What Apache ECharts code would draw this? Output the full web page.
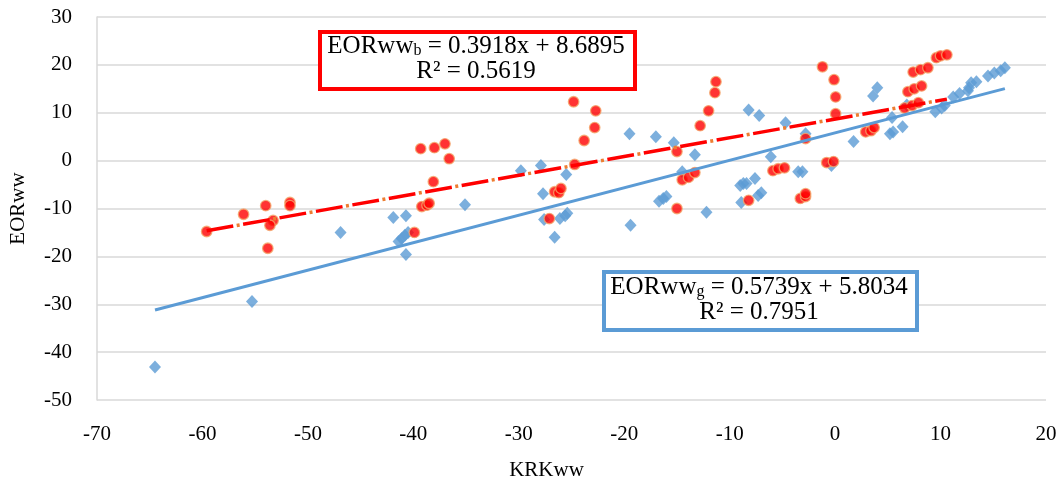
<!DOCTYPE html>
<html>
<head>
<meta charset="utf-8">
<script src="https://cdn.jsdelivr.net/npm/echarts@6/dist/echarts.min.js"></script>
<style>
html,body{margin:0;padding:0;background:#fff;}
#chart{width:1062px;height:486px;}
</style>
</head>
<body>
<div id="chart"></div>
<script>
// Blue series (g): diamonds
const blueX = [-64.5,-55.3,-46.9,-41.9,-40.7,-41.4,-41.1,-40.8,-40.5,-40.7,-35.1,-29.8,-27.9,-27.7,-27.6,-26.6,-26.1,-25.6,-25.4,-25.5,-19.5,-19.4,-17.0,-15.3,-13.3,-14.5,-16.7,-16.3,-16.0,-12.2,-8.2,-7.2,-4.7,-2.8,-6.1,-9.0,-8.7,-8.4,-7.6,-8.9,-7.3,-7.0,-3.5,-3.1,1.75,-0.35,3.6,4.0,5.4,5.2,5.5,6.4,9.5,10.1,10.4,6.8,11.2,11.8,12.6,12.7,13.4,12.9,14.5,15.1,15.7,16.1];
const blueY = [-43.1,-29.4,-15.0,-11.9,-11.5,-16.9,-16.25,-15.6,-15.0,-19.6,-9.2,-2.1,-1.0,-6.9,-12.3,-16.0,-12.1,-11.5,-11.0,-2.9,5.6,-13.5,5.0,3.75,1.25,-2.3,-8.5,-7.9,-7.5,-10.8,10.6,9.4,7.9,5.6,0.8,-5.2,-4.8,-4.8,-3.75,-8.75,-7.3,-6.7,-2.3,-2.3,4.0,-1.0,13.5,15.2,9.0,5.6,6.0,7.1,10.2,11.0,11.5,11.6,13.3,14.0,14.6,15.2,16.5,16.25,17.7,18.3,18.75,19.4];
// Red series (b): circles
const redX = [-59.6,-56.1,-54.0,-53.3,-53.6,-53.8,-51.7,-51.7,-39.9,-39.2,-38.7,-38.5,-39.3,-38.0,-37.0,-36.6,-38.1,-27.1,-26.6,-26.2,-26.0,-24.7,-23.8,-22.8,-22.7,-24.8,-15.0,-15.0,-14.5,-13.9,-13.3,-12.8,-12.0,-11.4,-11.3,-8.2,-5.9,-5.4,-4.8,-3.3,-2.8,-2.8,-2.8,-1.2,-0.1,0.05,0.05,-0.8,-0.15,2.9,3.4,3.7,6.6,7.3,7.9,6.9,7.5,8.2,7.4,8.1,8.8,9.6,10.0,10.6];
const redY = [-14.8,-11.2,-9.4,-12.5,-13.5,-18.3,-8.75,-9.4,-15.0,-9.6,-9.3,-8.9,2.5,2.7,3.5,0.4,-4.4,-12.1,-6.5,-6.7,-5.8,-0.8,4.2,6.9,10.4,12.3,-10.0,1.9,-4.0,-3.5,-2.5,7.3,10.4,14.2,16.5,-8.3,-2.1,-1.7,-1.5,-7.9,-7.5,-6.9,4.6,19.6,16.9,13.3,9.8,-0.4,-0.2,6.0,6.25,6.9,11.0,11.5,12.1,14.4,15.0,15.6,18.5,19.0,19.4,21.5,21.9,22.1];
// Trendline coefficients
const blueSlope = 0.5739, blueIntercept = 5.8034, blueR2 = "0.7951";
const redSlope = 0.3918, redIntercept = 8.6895, redR2 = "0.5619";
// Axis ticks
const xMin = -70, xMax = 20, xStep = 10;
const yMin = -50, yMax = 30, yStep = 10;
const xTitle = "KRKww", yTitle = "EORww";

const zip = (a, b) => a.map((v, i) => [v, b[i]]);
const trend = (xs, m, c) => {
  const lo = Math.min(...xs), hi = Math.max(...xs);
  return [[lo, m * lo + c], [hi, m * hi + c]];
};

const FONT = '"Liberation Serif", "Times New Roman", serif';
const chart = echarts.init(document.getElementById('chart'));

const eqRich = {
  a: { fontFamily: FONT, fontSize: 25, fill: '#000', color: '#000', lineHeight: 25 },
  s: { fontFamily: FONT, fontSize: 16, fill: '#000', color: '#000', lineHeight: 25, verticalAlign: 'bottom', padding: [9, 0, 0, 0] }
};

chart.setOption({
  animation: false,
  backgroundColor: '#fff',
  grid: { left: 95, right: 16, top: 17, bottom: 85, containLabel: false },
  xAxis: {
    type: 'value', min: xMin, max: xMax, interval: xStep,
    name: xTitle, nameLocation: 'middle', nameGap: 60,
    nameTextStyle: { fontFamily: FONT, fontSize: 21, color: '#000', padding: [0, 50, 0, 0] },
    axisLine: { show: false },
    axisTick: { show: false },
    splitLine: { show: false },
    axisLabel: { fontFamily: FONT, fontSize: 21, color: '#000', margin: 24 }
  },
  yAxis: {
    type: 'value', min: yMin, max: yMax, interval: yStep,
    name: yTitle, nameLocation: 'middle', nameGap: 68,
    nameTextStyle: { fontFamily: FONT, fontSize: 21, color: '#000' },
    axisLine: { show: true, onZero: false, lineStyle: { color: '#d9d9d9', width: 1.5 } },
    axisTick: { show: false },
    splitLine: { show: true, lineStyle: { color: '#d9d9d9', width: 1.5 } },
    axisLabel: { fontFamily: FONT, fontSize: 21, color: '#000', margin: 25 }
  },
  series: [
    {
      type: 'scatter', name: 'g', data: zip(blueX, blueY),
      symbol: 'diamond', symbolSize: [12, 13],
      itemStyle: { color: '#5B9BD5' }, z: 2
    },
    {
      type: 'scatter', name: 'b', data: zip(redX, redY),
      symbol: 'circle', symbolSize: 10.5,
      itemStyle: { color: '#FF0000', borderColor: '#F4A66A', borderWidth: 1.3 }, z: 3
    },
    {
      type: 'line', name: 'g trend', data: trend(blueX, blueSlope, blueIntercept),
      symbol: 'none', silent: true, z: 4,
      lineStyle: { color: '#5B9BD5', width: 3 }
    },
    {
      type: 'line', name: 'b trend', data: trend(redX, redSlope, redIntercept),
      symbol: 'none', silent: true, z: 5,
      lineStyle: { color: '#FF0000', width: 3.5, type: [27, 10], dashOffset: 0 }
    },
    {
      type: 'line', name: 'b trend dots', data: trend(redX, redSlope, redIntercept),
      symbol: 'none', silent: true, z: 5,
      lineStyle: { color: '#ED7D31', width: 3.5, type: [3, 34], dashOffset: 6.5 }
    }
  ],
  graphic: [
    {
      type: 'rect', left: 318, top: 30, z: 100,
      shape: { width: 315, height: 57 },
      style: { fill: '#fff', stroke: '#FF0000', lineWidth: 4 }
    },
    {
      type: 'text', x: 476, y: 59, z: 101,
      style: {
        text: '{a|EORww}{s|b}{a| = ' + redSlope + 'x + ' + redIntercept + '}\n{a|R² = ' + redR2 + '}',
        rich: eqRich, align: 'center', verticalAlign: 'middle', fill: '#000'
      }
    },
    {
      type: 'rect', left: 602, top: 270, z: 100,
      shape: { width: 313, height: 58 },
      style: { fill: '#fff', stroke: '#5B9BD5', lineWidth: 4 }
    },
    {
      type: 'text', x: 759, y: 300, z: 101,
      style: {
        text: '{a|EORww}{s|g}{a| = ' + blueSlope + 'x + ' + blueIntercept + '}\n{a|R² = ' + blueR2 + '}',
        rich: eqRich, align: 'center', verticalAlign: 'middle', fill: '#000'
      }
    }
  ]
});
</script>
</body>
</html>
